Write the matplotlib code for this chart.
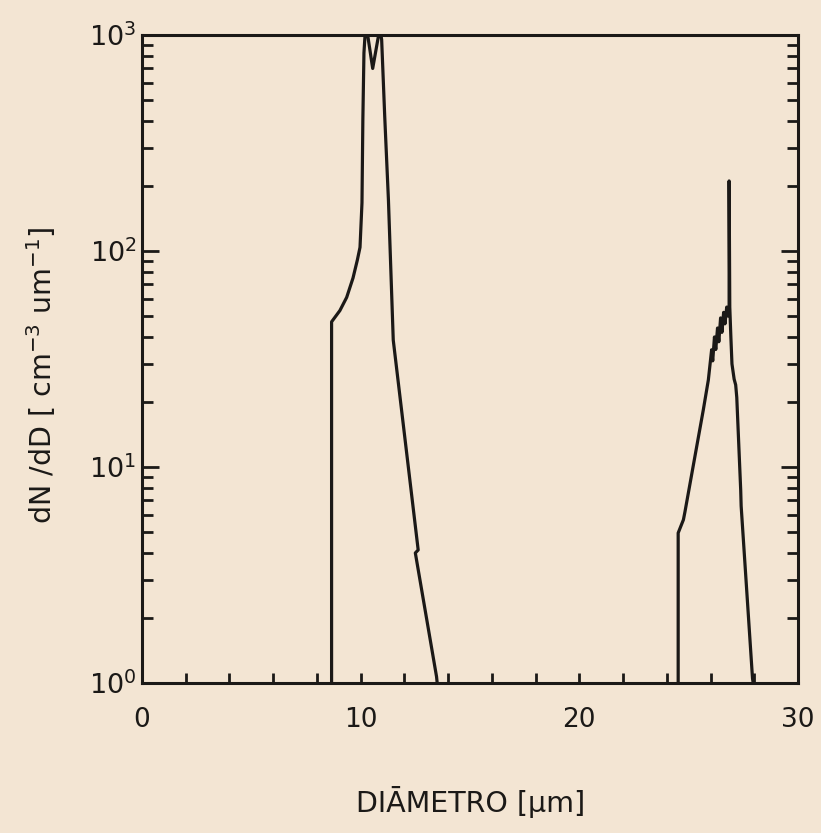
import matplotlib
matplotlib.use("Agg")
import matplotlib.pyplot as plt
from matplotlib.ticker import FixedLocator, FixedFormatter, MultipleLocator, LogLocator, NullFormatter

plt.rcParams['font.family'] = ['DejaVu Sans']
plt.rcParams['mathtext.fontset'] = 'dejavusans'

# Size distribution dN/dD (cm^-3 um^-1) against droplet diameter (um)
# first mode
mode1_diam = [8.67, 8.67, 9.05, 9.36, 9.65, 9.85, 9.97, 10.06, 10.10, 10.15,
              10.20, 10.27, 10.55, 10.88, 10.96, 11.10, 11.27, 11.49, 12.63,
              12.50, 13.47, 13.50]
mode1_dndd = [1.0, 47, 53, 61, 75, 91, 104, 167, 405, 826,
              1000, 1080, 700, 1080, 950, 420, 172, 38.7, 4.13,
              4.0, 1.07, 1.0]

# second mode
mode2_diam = [24.52, 24.52, 24.76, 24.83, 25.67, 25.90, 26.05, 26.10, 26.18,
              26.24, 26.32, 26.38, 26.46, 26.52, 26.60, 26.66, 26.74, 26.80,
              26.85, 26.85, 26.88, 26.93, 26.98, 27.08, 27.15, 27.20, 27.38,
              27.40, 27.92, 27.95]
mode2_dndd = [1.0, 4.95, 5.7, 6.2, 18.4, 25.3, 34.9, 31, 40,
              35, 44, 38, 49, 42, 52, 46, 55, 50,
              56, 211, 55, 40, 30, 25.5, 24, 21, 7.8,
              6.6, 1.05, 1.0]

x_major = [0, 10, 20, 30]
x_labels = ['0', '10', '20', '30']
y_major = [1, 10, 100, 1000]
y_labels = [r'$10^{0}$', r'$10^{1}$', r'$10^{2}$', r'$10^{3}$']

paper = '#f3e5d3'
ink = '#1b1917'

W, H = 821, 833
fig = plt.figure(figsize=(W / 100, H / 100), dpi=100, facecolor=paper)
ax = fig.add_axes([142 / W, 150 / H, 656 / W, 648 / H], facecolor=paper)

ax.plot(mode1_diam, mode1_dndd, color=ink, lw=2.3, solid_joinstyle='round')
ax.plot(mode2_diam, mode2_dndd, color=ink, lw=2.3, solid_joinstyle='round')

ax.set_yscale('log')
ax.set_xlim(0, 30)
ax.set_ylim(1, 1000)

ax.xaxis.set_major_locator(FixedLocator(x_major))
ax.xaxis.set_major_formatter(FixedFormatter(x_labels))
ax.xaxis.set_minor_locator(MultipleLocator(2))
ax.yaxis.set_major_locator(FixedLocator(y_major))
ax.yaxis.set_major_formatter(FixedFormatter(y_labels))
ax.yaxis.set_minor_locator(LogLocator(base=10, subs=range(2, 10)))
ax.yaxis.set_minor_formatter(NullFormatter())

ax.tick_params(axis='x', which='both', direction='in', length=7, width=2,
               color=ink, bottom=True, top=False, pad=17, labelsize=19,
               labelcolor=ink)
ax.tick_params(axis='y', which='major', direction='in', length=12, width=2,
               color=ink, left=True, right=True, pad=4, labelsize=19.5,
               labelcolor=ink)
ax.tick_params(axis='y', which='minor', direction='in', length=8, width=2,
               color=ink, left=True, right=True)

for sp in ax.spines.values():
    sp.set_linewidth(2.2)
    sp.set_color(ink)

fig.text(41 / W, 1 - 375 / H, r'dN /dD [ cm$^{-3}$ um$^{-1}$]', rotation=90,
         ha='center', va='center', fontsize=20.5, color=ink)
fig.text(471 / W, 1 - 802 / H, 'DIĀMETRO [µm]', ha='center', va='center',
         fontsize=20.5, color=ink)

fig.savefig('out.png', dpi=100, facecolor=paper)
